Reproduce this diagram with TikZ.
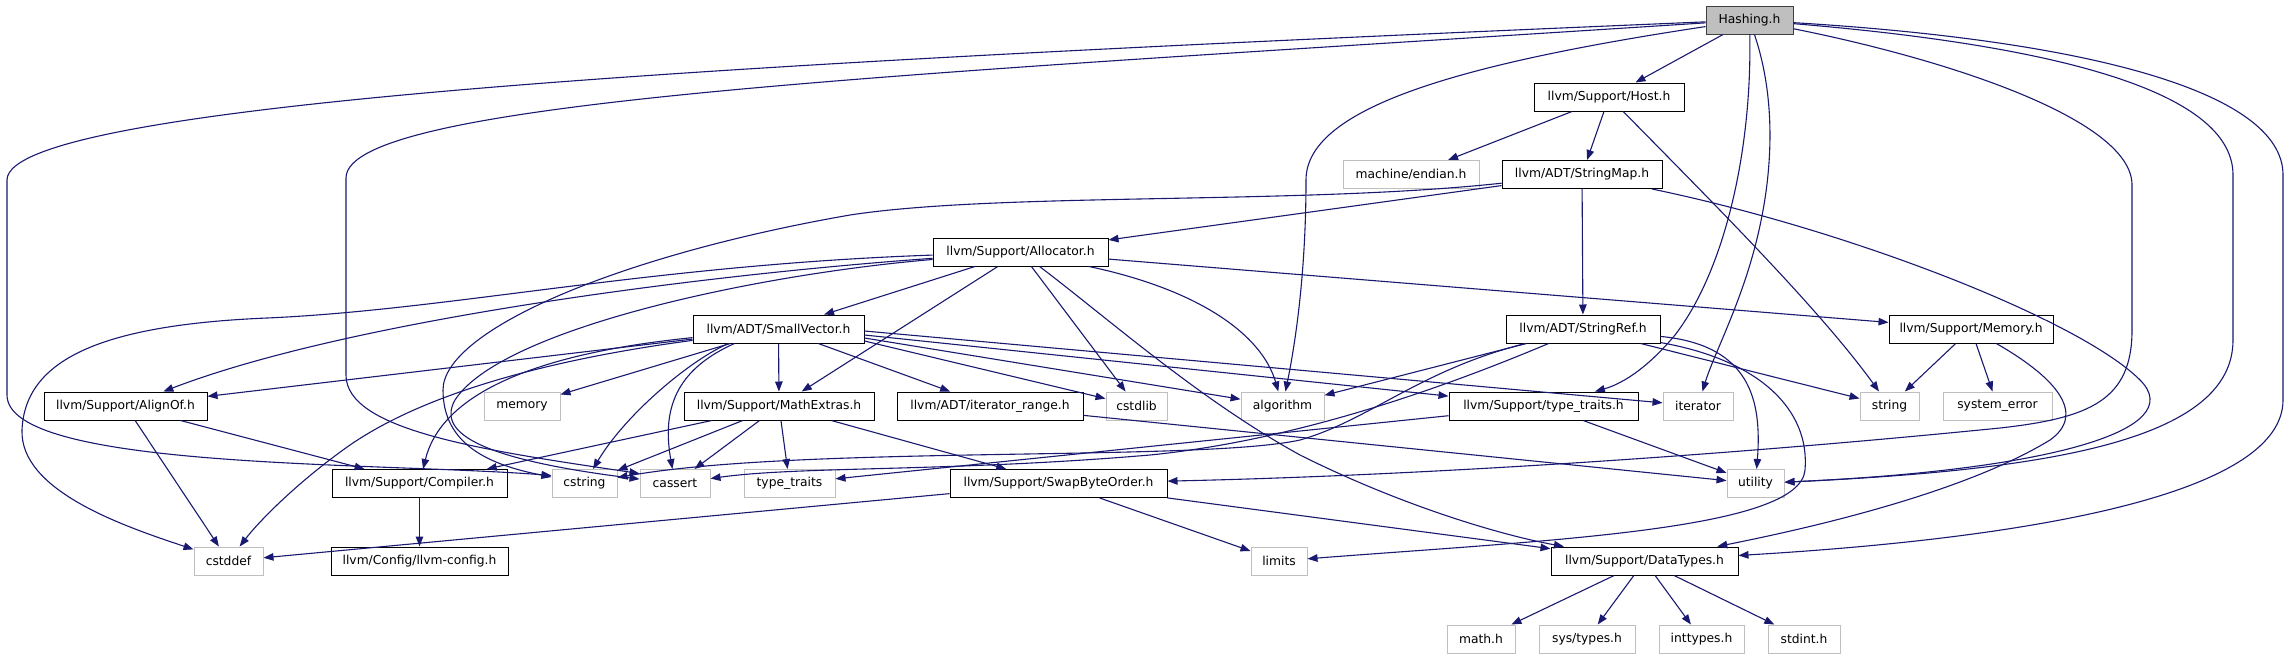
\documentclass[tikz,border=0pt]{standalone}
\usepackage{fontspec}
\setmainfont{DejaVu Sans}
\usetikzlibrary{arrows.meta,calc}
\definecolor{edgec}{RGB}{25,25,112}
\definecolor{grayb}{RGB}{191,191,191}
\definecolor{hfill}{RGB}{191,191,191}
\definecolor{hdraw}{RGB}{64,64,64}
\begin{document}
\begin{tikzpicture}[x=1pt,y=-1pt,
  every node/.style={font=\fontsize{12.3}{14}\selectfont, inner sep=0pt, minimum height=28pt, anchor=center},
  box/.style={draw=black, line width=1pt, fill=white},
  sys/.style={draw=grayb, line width=1pt, fill=white},
  root/.style={draw=hdraw, line width=1pt, fill=hfill},
  e/.style={draw=edgec, line width=1.1pt, -{Triangle[length=10pt,width=7.5pt]}}]
\useasboundingbox[fill=white] (0,0) rectangle (2290,659);

% row 0
\node[root, minimum width=87pt] (H) at (1749.5,20) {Hashing.h};
% row 1
\node[box, minimum width=150pt] (Host) at (1609,97) {llvm/Support/Host.h};
% row 2
\node[sys, minimum width=136pt] (endian) at (1411,174.5) {machine/endian.h};
\node[box, minimum width=160pt] (SM) at (1582,174.5) {llvm/ADT/StringMap.h};
% row 3
\node[box, minimum width=175pt] (A) at (1020.5,252) {llvm/Support/Allocator.h};
% row 4
\node[box, minimum width=171pt] (SV) at (778.5,329) {llvm/ADT/SmallVector.h};
\node[box, minimum width=154pt] (SR) at (1583,329) {llvm/ADT/StringRef.h};
\node[box, minimum width=164pt] (MemH) at (1971,329) {llvm/Support/Memory.h};
% row 5
\node[box, minimum width=163pt] (AO) at (125.5,406) {llvm/Support/AlignOf.h};
\node[sys, minimum width=76pt] (nmemory) at (522,406) {memory};
\node[box, minimum width=190pt] (ME) at (779,406) {llvm/Support/MathExtras.h};
\node[box, minimum width=186pt] (IR) at (990,406) {llvm/ADT/iterator\_range.h};
\node[sys, minimum width=61pt] (cstdlib) at (1136.5,406) {cstdlib};
\node[sys, minimum width=83pt] (algorithm) at (1282.5,406) {algorithm};
\node[box, minimum width=189pt] (ttS) at (1543.5,406) {llvm/Support/type\_traits.h};
\node[sys, minimum width=70pt] (iterator) at (1698,406) {iterator};
\node[sys, minimum width=59pt] (string) at (1889.5,406) {string};
\node[sys, minimum width=109pt] (syserr) at (1997.5,406) {system\_error};
% row 6
\node[box, minimum width=175pt] (Compiler) at (419.5,483.5) {llvm/Support/Compiler.h};
\node[sys, minimum width=65pt] (cstring) at (584.5,483.5) {cstring};
\node[sys, minimum width=70pt] (cassert) at (675,483.5) {cassert};
\node[sys, minimum width=91pt] (tt) at (789.5,483.5) {type\_traits};
\node[box, minimum width=217pt] (SBO) at (1058.5,483.5) {llvm/Support/SwapByteOrder.h};
\node[sys, minimum width=57pt] (utility) at (1755.5,483.5) {utility};
% row 7
\node[sys, minimum width=69pt] (cstddef) at (228.5,561) {cstddef};
\node[box, minimum width=177pt] (config) at (419.5,561) {llvm/Config/llvm-config.h};
\node[sys, minimum width=56pt] (limits) at (1279,561) {limits};
\node[box, minimum width=187pt] (DT) at (1644.5,561) {llvm/Support/DataTypes.h};
% row 8
\node[sys, minimum width=68pt] (math) at (1481,639) {math.h};
\node[sys, minimum width=96pt] (systypes) at (1587,639) {sys/types.h};
\node[sys, minimum width=85pt] (inttypes) at (1701.5,639) {inttypes.h};
\node[sys, minimum width=72pt] (stdint) at (1804,639) {stdint.h};

% Hashing.h
\draw[e] (H) .. controls (800,60) and (7,100) .. (7,180) -- (7,395) .. controls (7,470) and (380,462) .. ($(cstring.west)+(0,-8)$);
\draw[e] (H) .. controls (900,75) and (346,100) .. (346,178) -- (346,375) .. controls (346,430) and (480,450) .. ($(cassert.west)+(0,-10)$);
\draw[e] (H) -- (Host);
\draw[e] (H) .. controls (1450,65) and (1306,110) .. (1306,180) .. controls (1306,260) and (1298,330) .. (algorithm);
\draw[e] (H) .. controls (1752,150) and (1725,270) .. (1675,335) .. controls (1650,365) and (1625,383) .. (ttS);
\draw[e] (H) .. controls (1780,110) and (1772,200) .. (1745,280) .. controls (1730,325) and (1712,360) .. (iterator);
\draw[e] (H) .. controls (1950,60) and (2132,120) .. (2132,185) -- (2132,330) .. controls (2132,400) and (2090,418) .. (2000,428) .. controls (1700,458) and (1400,476) .. (SBO);
\draw[e] (H) .. controls (2050,45) and (2233,90) .. (2233,175) -- (2233,340) .. controls (2233,440) and (2050,470) .. (utility);
\draw[e] (H) .. controls (2080,40) and (2283,90) .. (2283,175) -- (2283,400) .. controls (2283,500) and (2000,540) .. (DT);

% Host.h
\draw[e] (Host) -- (endian);
\draw[e] (Host) -- (SM);
\draw[e] (Host) .. controls (1720,210) and (1820,310) .. (string);

% StringMap.h
\draw[e] (SM) -- (A);
\draw[e] (SM) -- (SR);
\draw[e] (SM) .. controls (1850,230) and (2080,320) .. (2140,380) .. controls (2190,430) and (2050,470) .. (utility);
\draw[e] (SM) .. controls (1300,205) and (1000,192) .. (850,215) .. controls (620,255) and (443,330) .. (443,390) .. controls (443,445) and (490,465) .. (cstring);

% Allocator.h
\draw[e] (A) -- (SV);
\draw[e] (A) -- (ME);
\draw[e] (A) -- (cstdlib);
\draw[e] (A) .. controls (1200,290) and (1262,335) .. (algorithm);
\draw[e] (A) .. controls (1110,320) and (1200,400) .. (1300,455) .. controls (1400,505) and (1500,535) .. (DT);
\draw[e] (A) -- (MemH);
\draw[e] (A) .. controls (700,275) and (350,320) .. (AO);
\draw[e] (A) .. controls (650,265) and (450,310) .. (267,318) .. controls (100,325) and (25,360) .. (22,430) .. controls (20,490) and (120,525) .. (cstddef);
\draw[e] (A) .. controls (750,275) and (500,330) .. (455,400) .. controls (438,430) and (470,458) .. (cassert);

% SmallVector.h
\draw[e] (SV) -- (AO);
\draw[e] (SV) -- (nmemory);
\draw[e] (SV) -- (ME);
\draw[e] (SV) -- (IR);
\draw[e] ($(SV.east)+(0,12)$) -- (cstdlib);
\draw[e] ($(SV.east)+(0,9)$) -- (algorithm);
\draw[e] ($(SV.east)+(0,6)$) -- (ttS);
\draw[e] ($(SV.east)+(0,2)$) -- (iterator);
\draw[e] (SV) .. controls (520,355) and (440,400) .. (Compiler);
\draw[e] (SV) .. controls (560,358) and (430,390) .. (350,445) .. controls (300,480) and (260,520) .. (cstddef);
\draw[e] ($(SV.south)+(-50,0)$) .. controls (690,360) and (625,415) .. (cstring);
\draw[e] ($(SV.south)+(-44,0)$) .. controls (675,370) and (662,410) .. (cassert);

% MathExtras.h
\draw[e] (ME) -- (Compiler);
\draw[e] (ME) -- (cstring);
\draw[e] (ME) -- (cassert);
\draw[e] (ME) -- (tt);
\draw[e] (ME) -- (SBO);

% AlignOf.h, Compiler.h
\draw[e] (AO) -- (Compiler);
\draw[e] (AO) -- (cstddef);
\draw[e] (Compiler) -- (config);

% type_traits.h, iterator_range.h
\draw[e] (ttS) -- (utility);
\draw[e] (ttS) -- (tt);
\draw[e] (IR) -- (utility);

% StringRef.h
\draw[e] (SR) -- (algorithm);
\draw[e] (SR) -- (string);
\draw[e] (SR) .. controls (1750,345) and (1762,400) .. (utility);
\draw[e] (SR) .. controls (1760,360) and (1810,410) .. (1805,470) .. controls (1800,530) and (1550,540) .. (limits);
\draw[e] (SR) .. controls (1420,370) and (1370,420) .. (1300,440) .. controls (1200,462) and (800,445) .. (cstring);
\draw[e] (SR) .. controls (1450,385) and (1300,440) .. (1150,455) .. controls (950,472) and (800,466) .. (cassert);

% SwapByteOrder.h
\draw[e] (SBO) -- (cstddef);
\draw[e] (SBO) -- (limits);
\draw[e] (SBO) -- (DT);

% Memory.h
\draw[e] (MemH) -- (string);
\draw[e] (MemH) -- (syserr);
\draw[e] (MemH) .. controls (2060,380) and (2085,415) .. (2050,440) .. controls (1960,495) and (1800,530) .. (DT);

% DataTypes.h
\draw[e] (DT) -- (math);
\draw[e] (DT) -- (systypes);
\draw[e] (DT) -- (inttypes);
\draw[e] (DT) -- (stdint);
\end{tikzpicture}
\end{document}
